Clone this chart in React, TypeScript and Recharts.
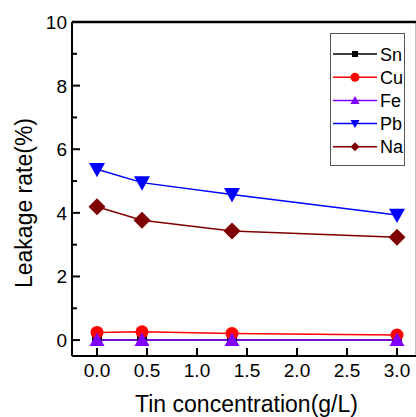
import { Customized, Line, LineChart, ReferenceLine, XAxis, YAxis } from "recharts";

const tinConc = [0, 0.45, 1.35, 3.0];
const sn = [0, 0, 0, 0];
const cu = [0.24, 0.26, 0.21, 0.16];
const fe = [0, 0, 0, 0];
const pb = [5.37, 4.95, 4.58, 3.93];
const na = [4.19, 3.77, 3.43, 3.23];

const xTicks = [0, 0.5, 1, 1.5, 2, 2.5, 3];
const yTicks = [0, 1, 2, 3, 4, 5, 6, 7, 8, 9, 10];

const font = "'Liberation Sans', Arial, sans-serif";

type Shape = "square" | "circle" | "up" | "down" | "diamond";

const series: { key: string; name: string; color: string; shape: Shape; size: number }[] = [
  { key: "sn", name: "Sn", color: "#000000", shape: "square", size: 10 },
  { key: "cu", name: "Cu", color: "#ff0000", shape: "circle", size: 13 },
  { key: "fe", name: "Fe", color: "#8000ff", shape: "up", size: 15 },
  { key: "pb", name: "Pb", color: "#0000ff", shape: "down", size: 16 },
  { key: "na", name: "Na", color: "#800000", shape: "diamond", size: 17 },
];

const data = tinConc.map((x, i) => ({ x, sn: sn[i], cu: cu[i], fe: fe[i], pb: pb[i], na: na[i] }));

function Marker({ cx, cy, shape, size, color }: { cx: number; cy: number; shape: Shape; size: number; color: string }) {
  const h = size / 2;
  if (shape === "square") return <rect x={cx - h} y={cy - h} width={size} height={size} fill={color} />;
  if (shape === "circle") return <circle cx={cx} cy={cy} r={h} fill={color} />;
  if (shape === "up") return <polygon points={`${cx},${cy - h} ${cx + h},${cy + h * 0.8} ${cx - h},${cy + h * 0.8}`} fill={color} />;
  if (shape === "down") return <polygon points={`${cx - h},${cy - h * 0.8} ${cx + h},${cy - h * 0.8} ${cx},${cy + h}`} fill={color} />;
  return <polygon points={`${cx},${cy - h} ${cx + h},${cy} ${cx},${cy + h} ${cx - h},${cy}`} fill={color} />;
}

function YTick({ x, y, payload }: any) {
  const major = payload.value % 2 === 0;
  return (
    <g>
      <line x1={x} x2={x + (major ? 8 : 5)} y1={y} y2={y} stroke="#000" strokeWidth={2} />
      {major && (
        <text x={x - 5} y={y + 7} textAnchor="end" fontSize={19} fontFamily={font} fill="#000">
          {payload.value}
        </text>
      )}
    </g>
  );
}

function XTick({ x, y, payload }: any) {
  return (
    <g>
      <line x1={x} x2={x} y1={y} y2={y - 8} stroke="#000" strokeWidth={2} />
      <text x={x} y={y + 21} textAnchor="middle" fontSize={19} fontFamily={font} fill="#000">
        {payload.value.toFixed(1)}
      </text>
    </g>
  );
}

function LegendBox() {
  return (
    <g transform="translate(330,33)">
      <rect x={0.5} y={0.5} width={74} height={132} fill="#fff" stroke="#555" strokeWidth={1} />
      {series.map((s, i) => {
        const cy = 21 + i * 23.2;
        return (
          <g key={s.key}>
            <line x1={3} x2={47} y1={cy} y2={cy} stroke={s.color} strokeWidth={1.5} />
            <Marker cx={25} cy={cy} shape={s.shape} size={s.shape === "square" ? 6 : 9} color={s.color} />
            <text x={50} y={cy + 6.5} fontSize={18} fontFamily={font} fill="#000">
              {s.name}
            </text>
          </g>
        );
      })}
    </g>
  );
}

function Titles() {
  return (
    <g fontFamily={font} fill="#000">
      <text transform="translate(31.5,203) rotate(-90)" textAnchor="middle" fontSize={23}>
        Leakage rate(%)
      </text>
      <text x={246.5} y={411.5} textAnchor="middle" fontSize={23}>
        Tin concentration(g/L)
      </text>
    </g>
  );
}

export default function App() {
  return (
    <div style={{ position: "absolute", left: 0, top: 0, width: 416, height: 417, overflow: "hidden", background: "#fff" }}>
      <LineChart width={417} height={417} data={data} margin={{ top: 22, right: 0, bottom: 0, left: 0 }}>
        <XAxis
          dataKey="x"
          type="number"
          domain={[-0.25, 3.2]}
          ticks={xTicks}
          interval={0}
          allowDataOverflow
          height={61}
          tickSize={0}
          tickMargin={0}
          tickLine={false}
          tick={<XTick />}
          axisLine={{ stroke: "#000", strokeWidth: 2 }}
        />
        <YAxis
          type="number"
          domain={[-0.5, 10]}
          ticks={yTicks}
          interval={0}
          allowDataOverflow
          width={72}
          tickSize={0}
          tickMargin={0}
          tickLine={false}
          tick={<YTick />}
          axisLine={{ stroke: "#000", strokeWidth: 2 }}
        />
        <ReferenceLine y={10} stroke="#000" strokeWidth={2.5} />
        <ReferenceLine x={3.2} stroke="#000" strokeWidth={2.5} />
        {series.map((s) => (
          <Line
            key={s.key}
            dataKey={s.key}
            name={s.name}
            stroke={s.color}
            strokeWidth={1.5}
            isAnimationActive={false}
            dot={(p: any) => <Marker key={`${s.key}-${p.index}`} cx={p.cx} cy={p.cy} shape={s.shape} size={s.size} color={s.color} />}
            activeDot={false}
          />
        ))}
        <Customized component={LegendBox} />
        <Customized component={Titles} />
      </LineChart>
    </div>
  );
}
